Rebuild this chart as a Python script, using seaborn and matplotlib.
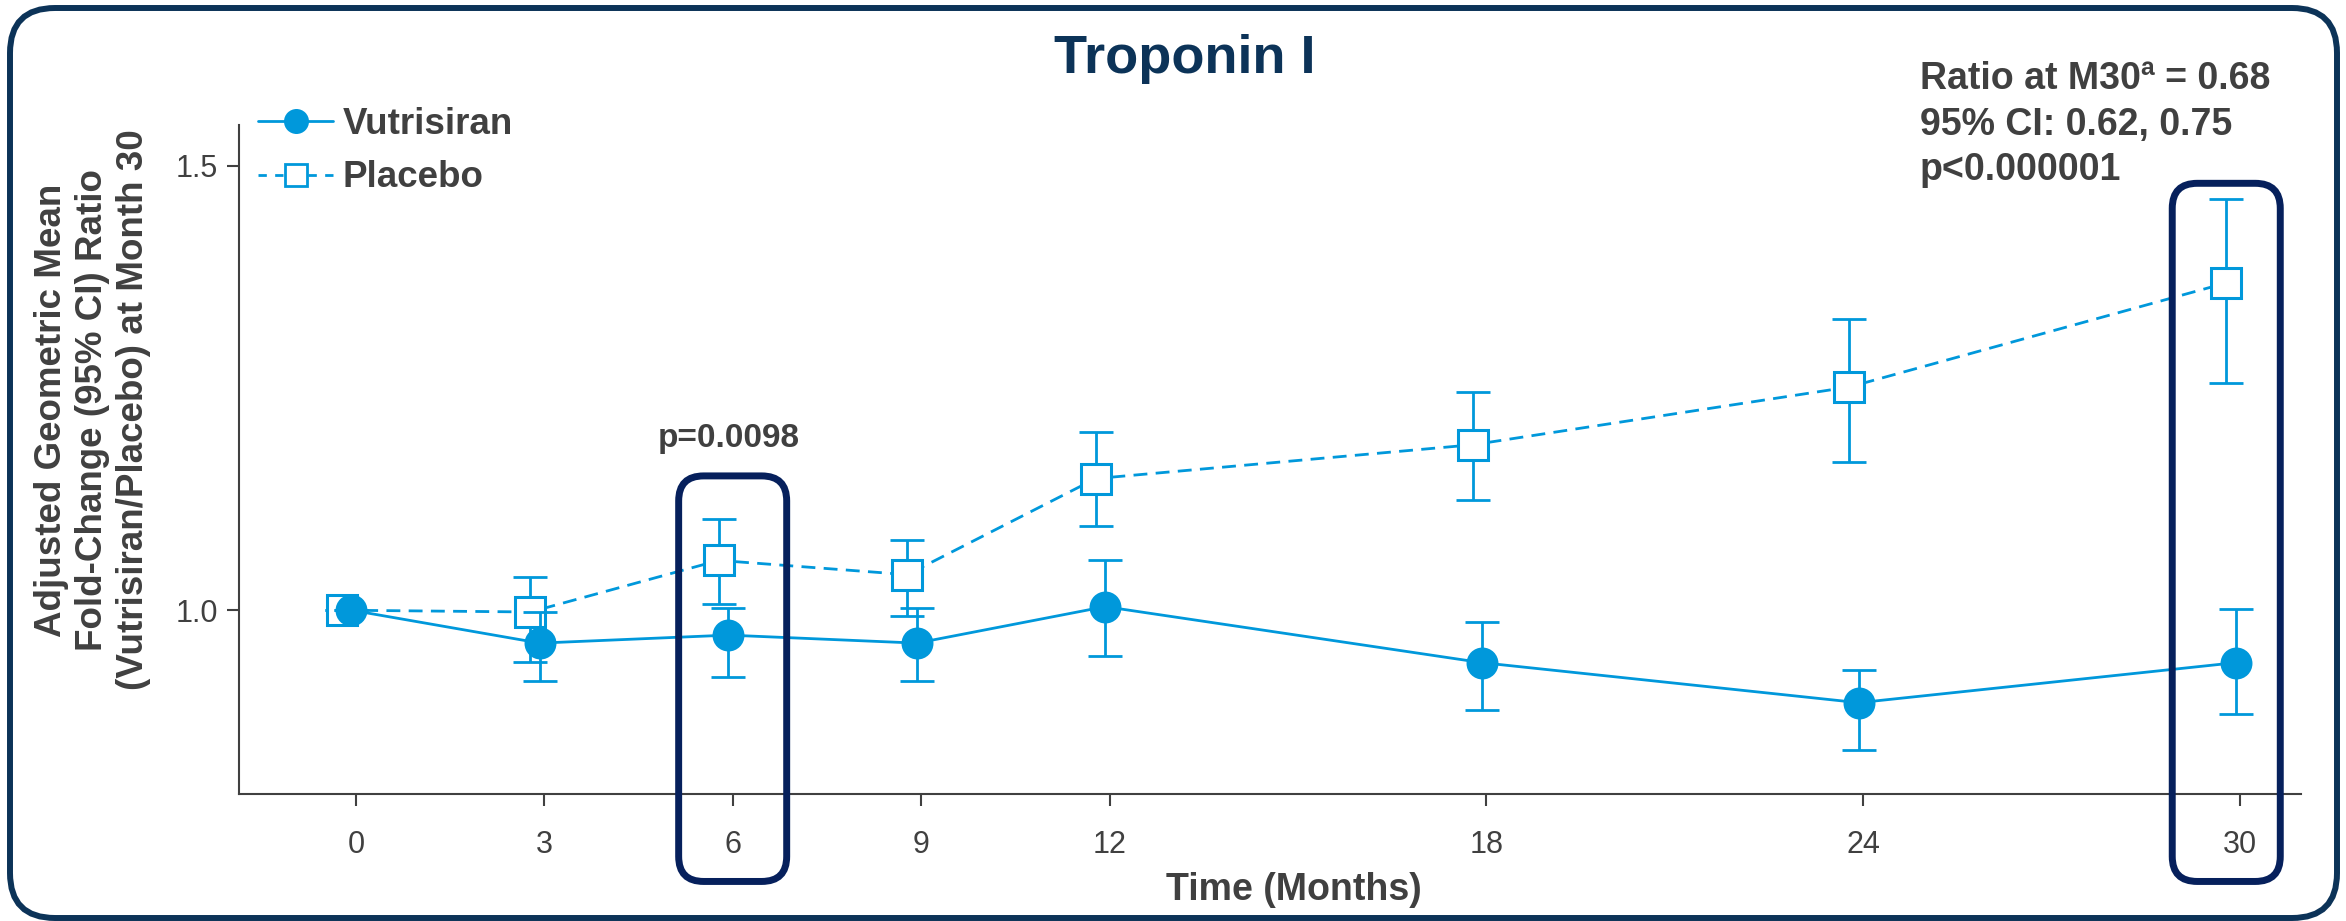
import numpy as np
import pandas as pd
import matplotlib
matplotlib.use("Agg")
import matplotlib.pyplot as plt
import seaborn as sns
from matplotlib.lines import Line2D
from matplotlib.patches import FancyBboxPatch
from matplotlib.transforms import IdentityTransform

# values
months = [0, 3, 6, 9, 12, 18, 24, 30]
vut_mean = [1.000, 0.963, 0.972, 0.963, 1.004, 0.941, 0.896, 0.941]
vut_low = [1.000, 0.920, 0.925, 0.920, 0.949, 0.888, 0.843, 0.883]
vut_high = [1.000, 0.998, 1.003, 1.003, 1.056, 0.987, 0.933, 1.001]
pla_mean = [1.000, 0.998, 1.056, 1.040, 1.148, 1.186, 1.251, 1.368]
pla_low = [1.000, 0.942, 1.007, 0.994, 1.095, 1.124, 1.167, 1.255]
pla_high = [1.000, 1.037, 1.102, 1.079, 1.200, 1.245, 1.327, 1.462]

x_ticks = [0, 3, 6, 9, 12, 18, 24, 30]
y_ticks = [1.0, 1.5]
y_tick_labels = ["1.0", "1.5"]

title = "Troponin I"
x_label = "Time (Months)"
y_label = ["Adjusted Geometric Mean",
           "Fold-Change (95% CI) Ratio",
           "(Vutrisiran/Placebo) at Month 30"]
stats_lines = ["Ratio at M30\u00aa = 0.68", "95% CI: 0.62, 0.75", "p<0.000001"]
p_month6 = "p=0.0098"

BLUE = "#0098db"
GREY = "#404040"
NAVY = "#0c3358"
BOX_NAVY = "#06205c"

sns.set_theme(style="white")
plt.rcParams["font.family"] = ["Liberation Sans", "DejaVu Sans"]

W, H = 2346, 921
fig = plt.figure(figsize=(W / 100, H / 100), dpi=100)
ax = fig.add_axes([239 / W, 1 - 794.3 / H, (2301 - 239) / W, (794.3 - 125.5) / H])

# small horizontal dodge so the two groups don't sit exactly on top of each other
vut_x = np.array(months) - 0.07
pla_x = np.array(months) - 0.22

df_v = pd.DataFrame({"month": vut_x, "ratio": vut_mean})
df_p = pd.DataFrame({"month": pla_x, "ratio": pla_mean})

# placebo first (drawn underneath)
ax.errorbar(pla_x, pla_mean,
            yerr=[np.array(pla_mean) - np.array(pla_low), np.array(pla_high) - np.array(pla_mean)],
            fmt="none", ecolor=BLUE, elinewidth=2, capsize=12, capthick=2, zorder=2)
sns.lineplot(data=df_p, x="month", y="ratio", ax=ax, color=BLUE, linewidth=2,
             linestyle=(0, (5, 3)), marker="s", markersize=21.5,
             markerfacecolor="white", markeredgecolor=BLUE, markeredgewidth=2.2,
             errorbar=None, zorder=3)

ax.errorbar(vut_x, vut_mean,
            yerr=[np.array(vut_mean) - np.array(vut_low), np.array(vut_high) - np.array(vut_mean)],
            fmt="none", ecolor=BLUE, elinewidth=2, capsize=12, capthick=2, zorder=4)
sns.lineplot(data=df_v, x="month", y="ratio", ax=ax, color=BLUE, linewidth=2,
             marker="o", markersize=23, markeredgewidth=0,
             errorbar=None, zorder=5)

ax.set_xlim(-1.86, 30.97)
ax.set_ylim(0.793, 1.545)
ax.set_xticks(x_ticks)
ax.set_xticklabels([str(m) for m in x_ticks])
ax.set_yticks(y_ticks)
ax.set_yticklabels(y_tick_labels)
ax.set_xlabel("")
ax.set_ylabel("")
sns.despine(ax=ax)
for side in ["left", "bottom"]:
    ax.spines[side].set_color(GREY)
    ax.spines[side].set_linewidth(1.5)
ax.tick_params(axis="both", colors=GREY, labelsize=22, direction="out",
               length=8.8, width=1.5, left=True, bottom=True)
ax.tick_params(axis="x", pad=17)
ax.tick_params(axis="y", pad=6.5)

# legend
handles = [
    Line2D([], [], color=BLUE, lw=2, marker="o", markersize=18, markeredgewidth=0),
    Line2D([], [], color=BLUE, lw=2, linestyle=(0, (3, 3)), marker="s", markersize=16,
           markerfacecolor="white", markeredgecolor=BLUE, markeredgewidth=2),
]
leg = fig.legend(handles, ["Vutrisiran", "Placebo"], loc="upper left",
                 bbox_to_anchor=(258 / W, 1 - 107 / H), frameon=False,
                 prop={"size": 26.5, "weight": "bold"}, handlelength=2.05,
                 handletextpad=0.25, labelspacing=0.5, borderpad=0, borderaxespad=0)
for t in leg.get_texts():
    t.set_color(GREY)

# texts
fig.text(1184.5 / W, 1 - 73 / H, title, ha="center", va="baseline",
         fontsize=39, weight="bold", color=NAVY)
fig.text(1294 / W, 1 - 900 / H, x_label, ha="center", va="baseline",
         fontsize=27, weight="bold", color=GREY)
fig.text(92.5 / W, 1 - 410 / H, "\n".join(y_label), rotation=90, ha="center", va="center",
         multialignment="center", linespacing=1.24, fontsize=26.5, weight="bold", color=GREY)
for i, line in enumerate(stats_lines):
    fig.text(1920 / W, 1 - (89.3 + 45.5 * i) / H, line, ha="left", va="baseline",
             fontsize=27, weight="bold", color=GREY)
fig.text(728.8 / W, 1 - 447.3 / H, p_month6, ha="center", va="baseline",
         fontsize=24, weight="bold", color=GREY)

# highlight boxes around month 6 and month 30 (x0, x1, y0, y1 in data units)
highlights = [(5.14, 6.86, 0.695, 1.151), (28.92, 30.64, 0.695, 1.480)]
for x0, x1, y0, y1 in highlights:
    (px0, py0), (px1, py1) = ax.transData.transform([(x0, y0), (x1, y1)])
    box = FancyBboxPatch((px0, py0), px1 - px0, py1 - py0,
                         boxstyle="round,pad=0,rounding_size=25",
                         transform=IdentityTransform(), fill=False,
                         edgecolor=BOX_NAVY, linewidth=5, clip_on=False, zorder=10)
    fig.add_artist(box)

# outer rounded frame
frame = FancyBboxPatch((10, 3), 2327, 910, boxstyle="round,pad=0,rounding_size=45",
                       transform=IdentityTransform(), fill=False, edgecolor=NAVY,
                       linewidth=4.3, clip_on=False, zorder=11)
fig.add_artist(frame)

fig.savefig("out.png", dpi=100)
